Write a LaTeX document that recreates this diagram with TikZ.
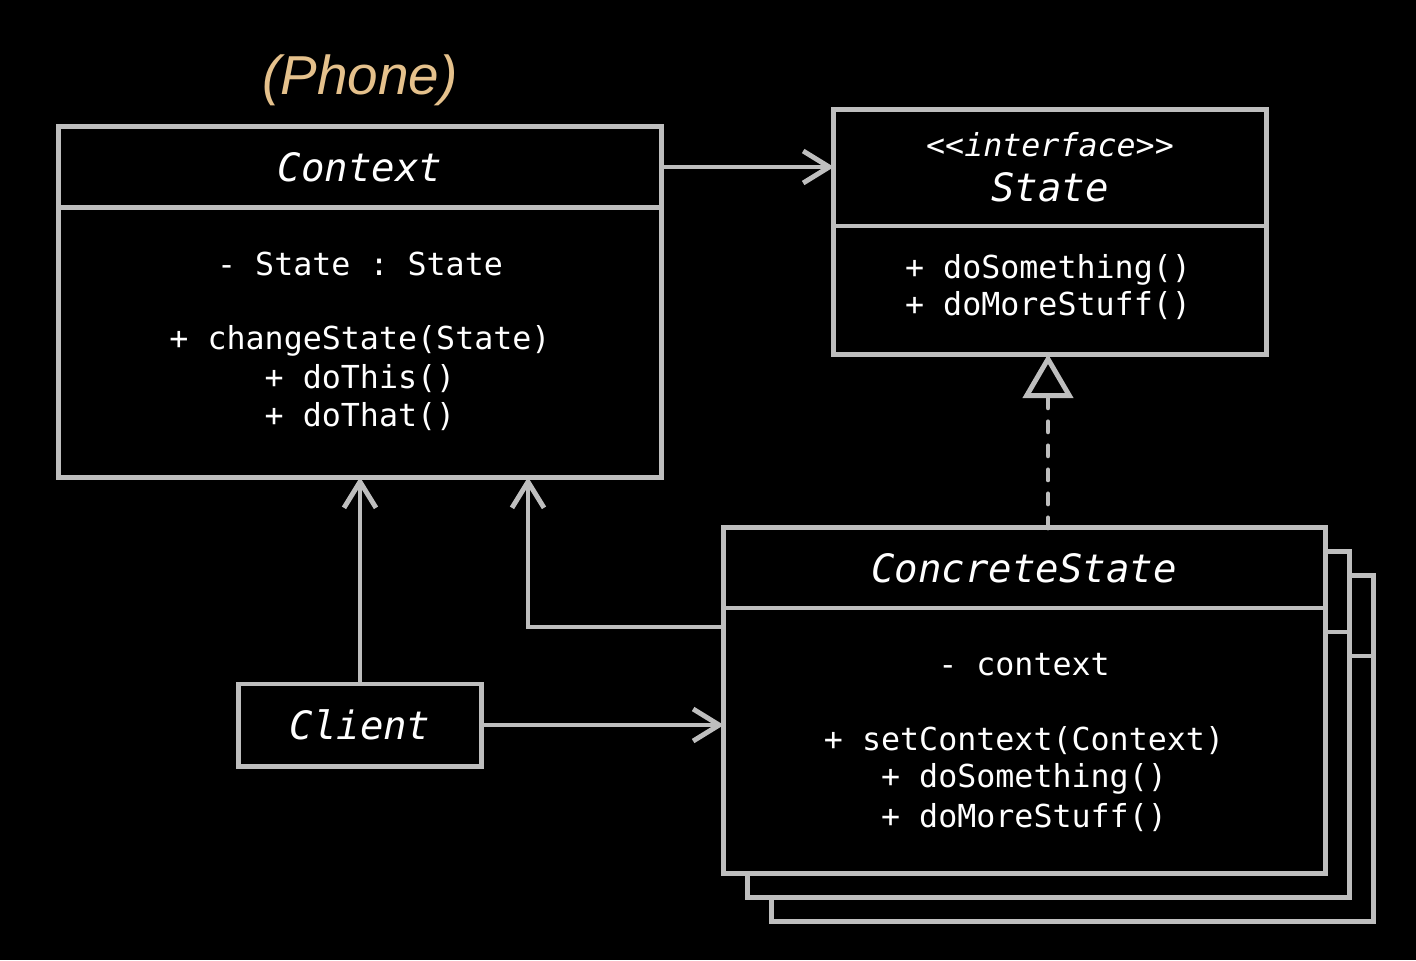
\documentclass[tikz,border=0pt]{standalone}
\usepackage{fontspec}
\setmonofont{DejaVu Sans Mono}
\newfontfamily\phonefont{Liberation Sans}
\usetikzlibrary{arrows.meta}
\definecolor{umlgray}{HTML}{BEBEBE}
\definecolor{phonegold}{HTML}{E5C18C}
\tikzset{
  box/.style={draw=umlgray, line width=1.4pt, fill=black, inner sep=0pt, outer sep=0pt},
  sep/.style={draw=umlgray, line width=1.4pt},
  member/.style={text=white, font=\ttfamily\fontsize{9}{11}\selectfont},
  classname/.style={text=white, font=\ttfamily\itshape\fontsize{11.1}{13}\selectfont},
  stereo/.style={text=white, font=\ttfamily\itshape\fontsize{9}{11}\selectfont},
  assoc/.style={draw=umlgray, line width=1.4pt, -{Straight Barb[length=2.6mm,width=3.2mm]}},
  realize/.style={draw=umlgray, line width=1.4pt, line cap=round, dash pattern=on 0.1cm off 0.14cm,
    -{Triangle[open, fill=black, length=4.4mm, width=5mm]}}
}
\begin{document}
\begin{tikzpicture}[x=0.01cm, y=-0.01cm]

  \fill[black] (0,0) rectangle (1416,960);
  \useasboundingbox (0,0) rectangle (1416,960);

  \node[text=phonegold, font=\phonefont\itshape\fontsize{15.6}{18}\selectfont] at(360,80)(phone){(Phone)};

  % Boxes
  \node[box, minimum width=6.02cm, minimum height=3.5cm] at(360,302)(ctx){};
  \draw[sep] ([yshift=-0.81cm]ctx.north west) -- ([yshift=-0.81cm]ctx.north east);

  \node[box, minimum width=4.32cm, minimum height=2.44cm] at(1050,232)(state){};
  \draw[sep] ([yshift=-1.16cm]state.north west) -- ([yshift=-1.16cm]state.north east);

  \node[box, minimum width=6.01cm, minimum height=3.45cm] at(1072.5,748.5)(cs3){};
  \draw[sep] ([yshift=-0.8cm]cs3.north west) -- ([yshift=-0.8cm]cs3.north east);
  \node[box, minimum width=6.01cm, minimum height=3.45cm] at(1048.5,724.5)(cs2){};
  \draw[sep] ([yshift=-0.8cm]cs2.north west) -- ([yshift=-0.8cm]cs2.north east);
  \node[box, minimum width=6.01cm, minimum height=3.45cm] at(1024.5,700.5)(cs){};
  \draw[sep] ([yshift=-0.8cm]cs.north west) -- ([yshift=-0.8cm]cs.north east);

  \node[box, minimum width=2.42cm, minimum height=0.82cm] at(360,725)(client){};

  % Context
  \node[classname] at(360,167)(ctxname){Context};
  \node[member] at(360,264)(ctxf1){- State : State};
  \node[member] at(360,341)(ctxm1){+ changeState(State)};
  \node[member] at(360,379)(ctxm2){+ doThis()};
  \node[member] at(360,417)(ctxm3){+ doThat()};

  % State
  \node[stereo] at(1050,145)(statest){<<interface>>};
  \node[classname] at(1050,187)(statename){State};
  \node[member] at(1048,270)(statem1){+ doSomething()};
  \node[member] at(1048,306)(statem2){+ doMoreStuff()};

  % ConcreteState
  \node[classname] at(1024,568)(csname){ConcreteState};
  \node[member] at(1024,665)(csf1){- context};
  \node[member] at(1024,741)(csm1){+ setContext(Context)};
  \node[member] at(1024,779)(csm2){+ doSomething()};
  \node[member] at(1024,818)(csm3){+ doMoreStuff()};

  % Client
  \node[classname] at(360,725)(clientname){Client};

  % connectors
  \coordinate (bend) at(528,627);
  \draw[assoc] (ctxname -| ctx.east) -- (ctxname -| state.west);
  \draw[assoc] (client.north) -- (client.north |- ctx.south);
  \draw[assoc] (bend -| cs.west) -- (bend) -- (bend |- ctx.south);
  \draw[assoc] (client.east) -- (client.east -| cs.west);
  \draw[realize] (statem2 |- cs.north) -- (statem2 |- state.south);

\end{tikzpicture}
\end{document}
